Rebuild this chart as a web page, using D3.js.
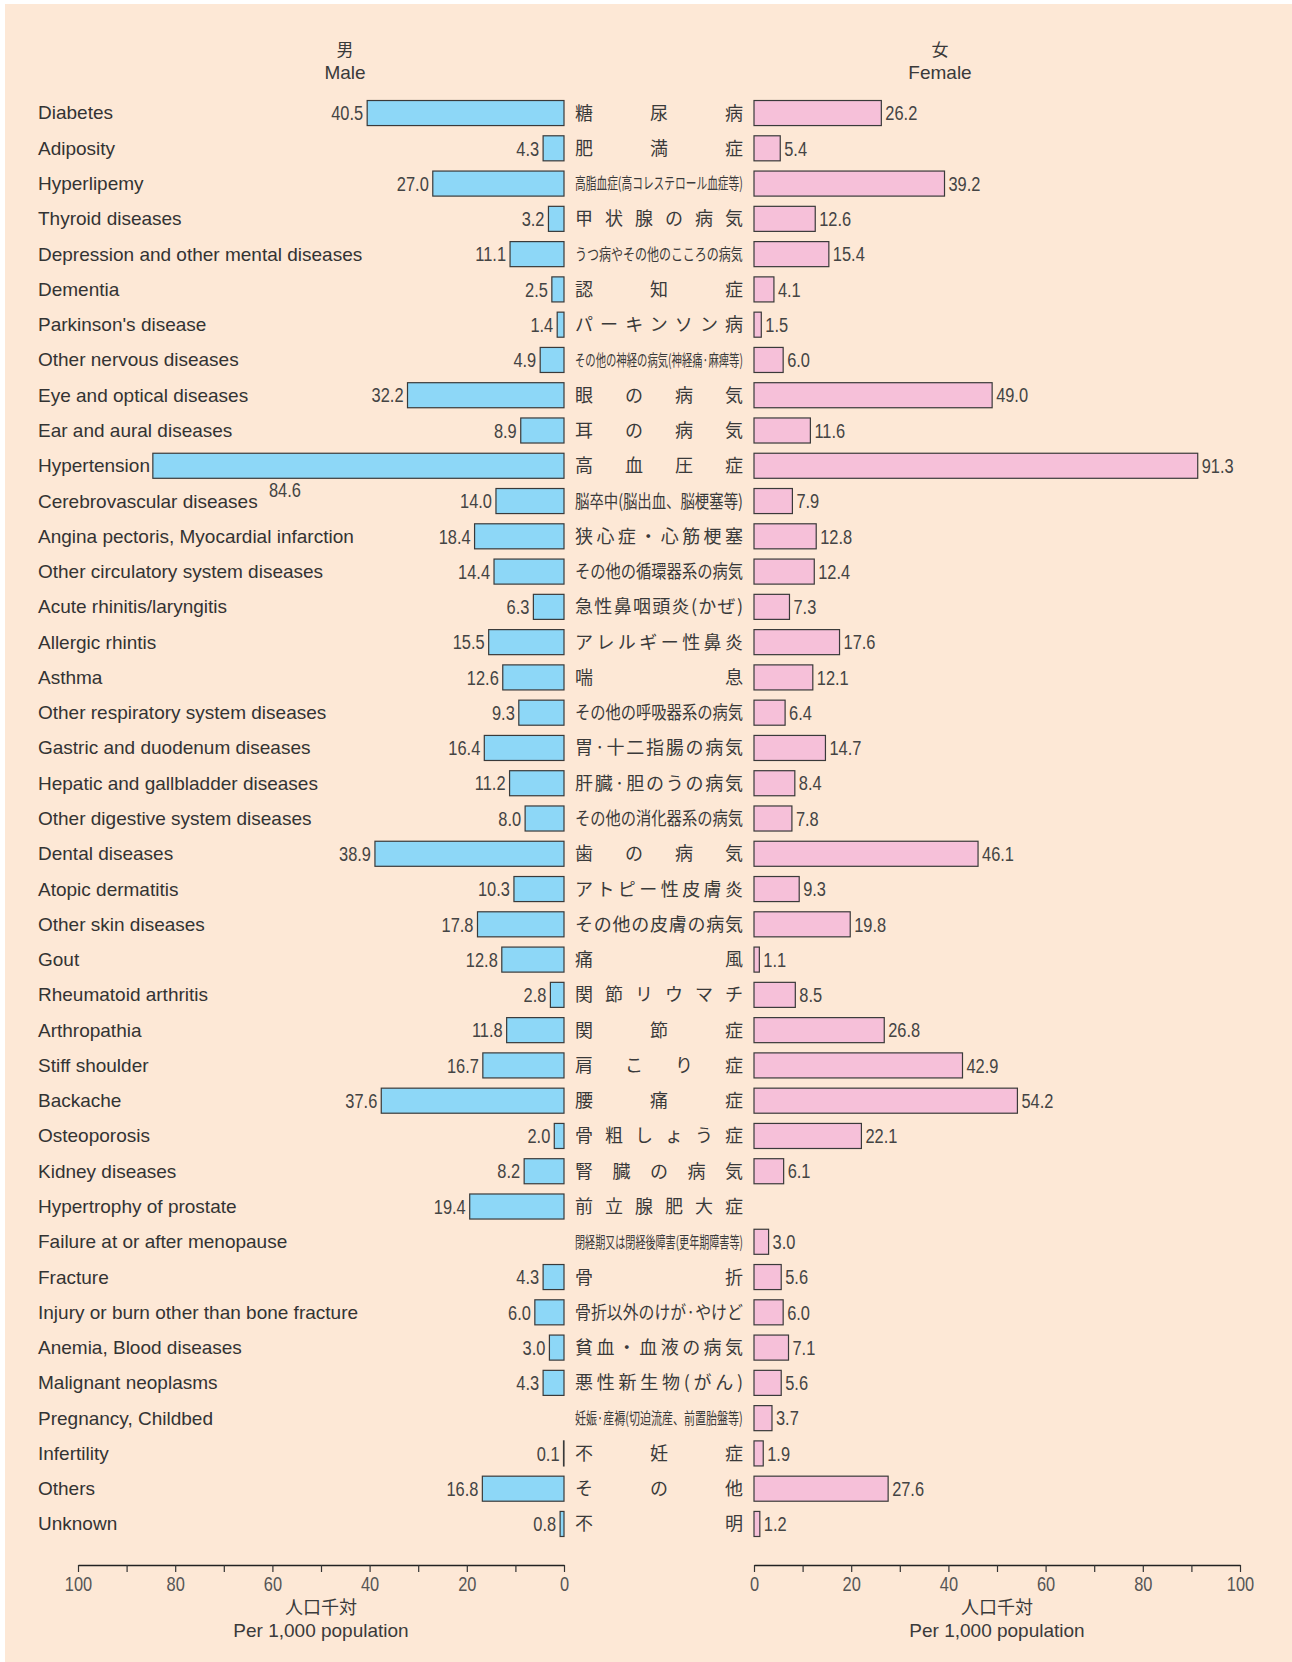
<!DOCTYPE html>
<html>
<head>
<meta charset="utf-8">
<script src="https://cdn.jsdelivr.net/npm/d3@7"></script>
<style>
  body { margin: 0; background: #fff; }
</style>
</head>
<body>
<div id="chart"></div>
<script>
const svgWidth = 1292
const svgHeight = 1662

// categories (English / Japanese)
const diseasesEn = [
  "Diabetes", "Adiposity", "Hyperlipemy", "Thyroid diseases",
  "Depression and other mental diseases", "Dementia", "Parkinson's disease",
  "Other nervous diseases", "Eye and optical diseases", "Ear and aural diseases",
  "Hypertension", "Cerebrovascular diseases", "Angina pectoris, Myocardial infarction",
  "Other circulatory system diseases", "Acute rhinitis/laryngitis", "Allergic rhintis",
  "Asthma", "Other respiratory system diseases", "Gastric and duodenum diseases",
  "Hepatic and gallbladder diseases", "Other digestive system diseases", "Dental diseases",
  "Atopic dermatitis", "Other skin diseases", "Gout", "Rheumatoid arthritis",
  "Arthropathia", "Stiff shoulder", "Backache", "Osteoporosis", "Kidney diseases",
  "Hypertrophy of prostate", "Failure at or after menopause", "Fracture",
  "Injury or burn other than bone fracture", "Anemia, Blood diseases",
  "Malignant neoplasms", "Pregnancy, Childbed", "Infertility", "Others", "Unknown"
]

const diseasesJa = [
  "糖尿病", "肥満症", "高脂血症(高コレステロール血症等)", "甲状腺の病気",
  "うつ病やその他のこころの病気", "認知症", "パーキンソン病",
  "その他の神経の病気(神経痛·麻痺等)", "眼の病気", "耳の病気",
  "高血圧症", "脳卒中(脳出血、脳梗塞等)", "狭心症・心筋梗塞",
  "その他の循環器系の病気", "急性鼻咽頭炎(かぜ)", "アレルギー性鼻炎",
  "喘息", "その他の呼吸器系の病気", "胃·十二指腸の病気",
  "肝臓·胆のうの病気", "その他の消化器系の病気", "歯の病気",
  "アトピー性皮膚炎", "その他の皮膚の病気", "痛風", "関節リウマチ",
  "関節症", "肩こり症", "腰痛症", "骨粗しょう症", "腎臓の病気",
  "前立腺肥大症", "閉経期又は閉経後障害(更年期障害等)", "骨折",
  "骨折以外のけが·やけど", "貧血・血液の病気",
  "悪性新生物(がん)", "妊娠·産褥(切迫流産、前置胎盤等)", "不妊症", "その他", "不明"
]

// rates per 1,000 population (null = not applicable)
const maleRates = [
  40.5, 4.3, 27.0, 3.2, 11.1, 2.5, 1.4, 4.9, 32.2, 8.9,
  84.6, 14.0, 18.4, 14.4, 6.3, 15.5, 12.6, 9.3, 16.4, 11.2,
  8.0, 38.9, 10.3, 17.8, 12.8, 2.8, 11.8, 16.7, 37.6, 2.0,
  8.2, 19.4, null, 4.3, 6.0, 3.0, 4.3, null, 0.1, 16.8, 0.8
]

const femaleRates = [
  26.2, 5.4, 39.2, 12.6, 15.4, 4.1, 1.5, 6.0, 49.0, 11.6,
  91.3, 7.9, 12.8, 12.4, 7.3, 17.6, 12.1, 6.4, 14.7, 8.4,
  7.8, 46.1, 9.3, 19.8, 1.1, 8.5, 26.8, 42.9, 54.2, 22.1,
  6.1, null, 3.0, 5.6, 6.0, 7.1, 5.6, 3.7, 1.9, 27.6, 1.2
]

const tickValues = d3.range(0, 101, 10)

const maleFill = "#8dd7f7"
const femaleFill = "#f6c0d9"
const numFont = "'Liberation Sans', Arial, sans-serif"
const jaFont = "'Noto Sans CJK JP', sans-serif"
const jaLeft = 575
const jaWidth = 168

let svg = d3
  .select("#chart")
  .append("svg")
  .attr("width", svgWidth)
  .attr("height", svgHeight)

svg.append("rect")
  .attr("x", 5)
  .attr("y", 4)
  .attr("width", svgWidth - 5)
  .attr("height", svgHeight - 4)
  .attr("fill", "#fde8d6")

let rows = diseasesEn.map((en, i) => ({
  i: i, en: en, ja: diseasesJa[i], male: maleRates[i], female: femaleRates[i]
}))

let yBand = d3.scaleBand()
  .domain(d3.range(rows.length))
  .range([95.4, 1541.6])
  .paddingInner(0.29)
  .paddingOuter(0.145)

let xLeft = d3.scaleLinear().domain([0, 100]).range([564, 78])
let xRight = d3.scaleLinear().domain([0, 100]).range([754, 1240])

const yMid = i => yBand(i) + yBand.bandwidth() / 2

// squeeze text horizontally to imitate the condensed face
function squeeze(sel, ratio) {
  sel.each(function() {
    let w = this.getComputedTextLength()
    d3.select(this)
      .attr("textLength", w * ratio)
      .attr("lengthAdjust", "spacingAndGlyphs")
  })
}

// English labels
svg.append("g")
  .selectAll("text")
  .data(rows)
  .enter()
  .append("text")
  .attr("x", 38)
  .attr("y", d => yMid(d.i))
  .attr("dy", "0.34em")
  .attr("font-family", numFont)
  .attr("font-size", 19)
  .attr("fill", "#333")
  .text(d => d.en)

// Japanese labels: short ones spread across the column, long ones compressed into it
let jaGroups = svg.append("g")
  .selectAll("g")
  .data(rows)
  .enter()
  .append("g")
  .attr("transform", d => `translate(${jaLeft}, ${yMid(d.i)})`)

let jaText = jaGroups.append("text")
  .attr("x", 0)
  .attr("y", 0)
  .attr("dy", "0.36em")
  .attr("font-family", jaFont)
  .attr("font-size", d => d.ja.length > 13 ? 16 : 18)
  .attr("fill", "#3a3a3a")
  .text(d => d.ja)

jaText.each(function() {
  let w = this.getComputedTextLength()
  if (w > jaWidth) {
    d3.select(this.parentNode)
      .attr("transform", function() {
        return d3.select(this).attr("transform") + ` scale(${jaWidth / w}, 1)`
      })
  } else {
    d3.select(this)
      .attr("textLength", jaWidth)
      .attr("lengthAdjust", "spacing")
  }
})

// male bars
let maleRows = rows.filter(d => d.male !== null)
svg.append("g")
  .selectAll("rect")
  .data(maleRows)
  .enter()
  .append("rect")
  .attr("x", d => xLeft(d.male))
  .attr("y", d => yBand(d.i))
  .attr("width", d => xLeft(0) - xLeft(d.male))
  .attr("height", yBand.bandwidth())
  .attr("fill", maleFill)
  .attr("stroke", "#3a3a3a")
  .attr("stroke-width", 1.2)

// female bars
let femaleRows = rows.filter(d => d.female !== null)
svg.append("g")
  .selectAll("rect")
  .data(femaleRows)
  .enter()
  .append("rect")
  .attr("x", xRight(0))
  .attr("y", d => yBand(d.i))
  .attr("width", d => xRight(d.female) - xRight(0))
  .attr("height", yBand.bandwidth())
  .attr("fill", femaleFill)
  .attr("stroke", "#3a3a3a")
  .attr("stroke-width", 1.2)

// value labels (the long hypertension bar gets its label tucked below)
let maleLabels = svg.append("g")
  .selectAll("text")
  .data(maleRows)
  .enter()
  .append("text")
  .attr("x", d => d.male > 60 ? xLeft(d.male) + 148 : xLeft(d.male) - 4)
  .attr("y", d => d.male > 60 ? yMid(d.i) + 24 : yMid(d.i))
  .attr("dy", "0.36em")
  .attr("text-anchor", "end")
  .attr("font-family", numFont)
  .attr("font-size", 20)
  .attr("fill", "#444")
  .text(d => d.male.toFixed(1))
squeeze(maleLabels, 0.82)

let femaleLabels = svg.append("g")
  .selectAll("text")
  .data(femaleRows)
  .enter()
  .append("text")
  .attr("x", d => xRight(d.female) + 4)
  .attr("y", d => yMid(d.i))
  .attr("dy", "0.36em")
  .attr("font-family", numFont)
  .attr("font-size", 20)
  .attr("fill", "#444")
  .text(d => d.female.toFixed(1))
squeeze(femaleLabels, 0.82)

// axes
function drawAxis(scale) {
  let axis = d3.axisBottom(scale)
    .tickValues(tickValues)
    .tickSize(7)
    .tickSizeOuter(0)
    .tickFormat(d => d % 20 === 0 ? d : "")
  let g = svg.append("g")
    .attr("transform", "translate(0, 1565)")
    .call(axis)
  g.select(".domain").attr("stroke", "#222").attr("stroke-width", 1.5)
  g.selectAll(".tick line").attr("stroke", "#333").attr("stroke-width", 1.2)
  let t = g.selectAll(".tick text")
    .attr("y", 11)
    .attr("font-family", numFont)
    .attr("font-size", 21)
    .attr("fill", "#555")
  squeeze(t, 0.78)
  return g
}
drawAxis(xLeft)
drawAxis(xRight)

// headers and axis titles
const headers = [
  { ja: "男", en: "Male", x: 345 },
  { ja: "女", en: "Female", x: 940 }
]
headers.forEach(h => {
  svg.append("text")
    .attr("x", h.x).attr("y", 56)
    .attr("text-anchor", "middle")
    .attr("font-family", jaFont).attr("font-size", 17)
    .attr("fill", "#3a3a3a")
    .text(h.ja)
  svg.append("text")
    .attr("x", h.x).attr("y", 79)
    .attr("text-anchor", "middle")
    .attr("font-family", numFont).attr("font-size", 19)
    .attr("fill", "#3a3a3a")
    .text(h.en)
})

;[xLeft, xRight].forEach(sc => {
  let cx = (sc(0) + sc(100)) / 2
  svg.append("text")
    .attr("x", cx).attr("y", 1614)
    .attr("text-anchor", "middle")
    .attr("font-family", jaFont).attr("font-size", 18)
    .attr("fill", "#3a3a3a")
    .text("人口千対")
  svg.append("text")
    .attr("x", cx).attr("y", 1637)
    .attr("text-anchor", "middle")
    .attr("font-family", numFont).attr("font-size", 19)
    .attr("fill", "#3a3a3a")
    .text("Per 1,000 population")
})
</script>
</body>
</html>
